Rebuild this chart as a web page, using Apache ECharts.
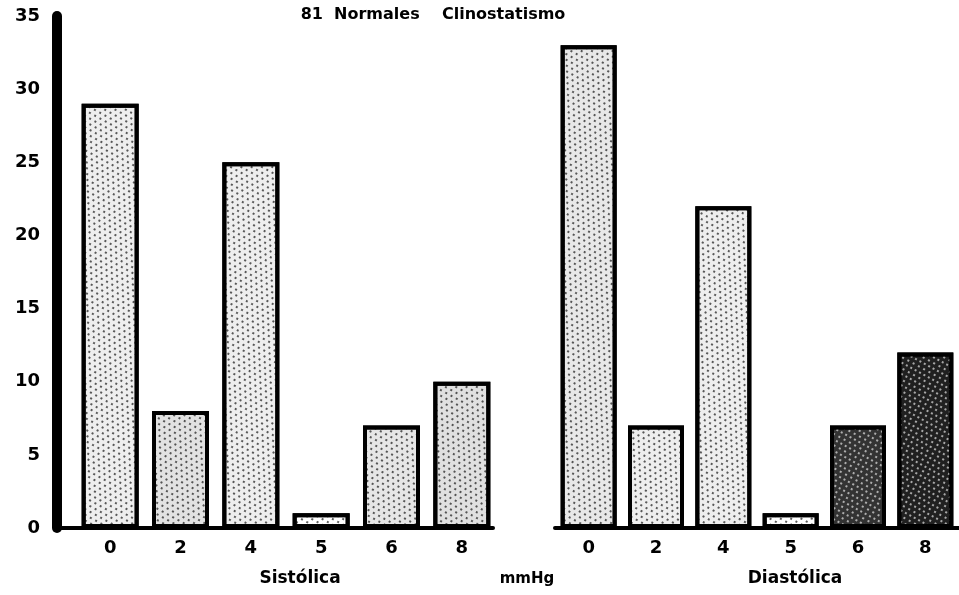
<!DOCTYPE html>
<html>
<head>
<meta charset="utf-8">
<script src="https://cdn.jsdelivr.net/npm/echarts@6/dist/echarts.min.js"></script>
<style>
html,body{margin:0;padding:0;background:#fff;}
#c{width:959px;height:595px;}
</style>
</head>
<body>
<div id="c"></div>
<script>
// ---- data ----
const categories = ['0', '2', '4', '5', '6', '8'];
const sistolica = [29, 8, 25, 1, 7, 10];
const diastolica = [33, 7, 22, 1, 7, 12];
const yMin = 0, yMax = 35, yStep = 5;
const titleText = '81  Normales    Clinostatismo';
const leftName = 'Sistólica';
const midName = 'mmHg';
const rightName = 'Diastólica';

// ---- styles ----
const FONT = 'DejaVu Sans';
const lightDecal = {
  symbol: 'circle', symbolSize: 0.9, color: '#111',
  dashArrayX: [[2, 4], [0, 3, 2, 1]], dashArrayY: [2, 2.5], rotation: 0.5
};
const darkDecal = {
  symbol: 'circle', symbolSize: 0.9, color: '#e8e8e8',
  dashArrayX: [[2, 3], [0, 2.5, 2, 0.5]], dashArrayY: [2, 2.5], rotation: 0.5
};
const leftFills = ['#eeeeee', '#e2e2e2', '#eeeeee', '#ffffff', '#e6e6e6', '#e0e0e0'];
const rightFills = ['#e8e8e8', '#eeeeee', '#eeeeee', '#ffffff', '#333333', '#202020'];

function buildData(vals, fills) {
  return vals.map((v, i) => ({
    value: v,
    itemStyle: {
      color: fills[i],
      decal: fills[i] < '#800000' ? darkDecal : lightDecal
    }
  }));
}

const chart = echarts.init(document.getElementById('c'), null, {renderer: 'canvas'});
const labelStyle = {color: '#000', fontFamily: FONT, fontWeight: 'bold', fontSize: 18};
const gridTop = 16, gridH = 512;
const nameStyle = {fontFamily: FONT, fontWeight: 'bold', fontSize: 17, color: '#000'};

const option = {
  backgroundColor: '#fff',
  animation: false,
  title: [
    {text: titleText, left: 428, top: 2, textAlign: 'center',
     textStyle: {fontFamily: FONT, fontWeight: 'bold', fontSize: 16, color: '#000'}},
    {text: leftName, left: 295, top: 565, textAlign: 'center', textStyle: nameStyle},
    {text: midName, left: 522, top: 567, textAlign: 'center',
     textStyle: {fontFamily: FONT, fontWeight: 'bold', fontSize: 15, color: '#000'}},
    {text: rightName, left: 790, top: 565, textAlign: 'center', textStyle: nameStyle}
  ],
  grid: [
    {left: 57, top: gridTop, width: 436, height: gridH},
    {left: 75, top: gridTop, width: 422, height: gridH},
    {left: 555, top: gridTop, width: 409, height: gridH}
  ],
  xAxis: [
    {gridIndex: 0, type: 'category', data: categories,
     axisLine: {lineStyle: {color: '#000', width: 4}}, axisTick: {show: false}, axisLabel: {show: false}},
    {gridIndex: 1, type: 'category', data: categories,
     axisLine: {show: false}, axisTick: {show: false},
     axisLabel: Object.assign({margin: 11}, labelStyle)},
    {gridIndex: 2, type: 'category', data: categories,
     axisLine: {lineStyle: {color: '#000', width: 4}}, axisTick: {show: false},
     axisLabel: Object.assign({margin: 11}, labelStyle)}
  ],
  yAxis: [
    {gridIndex: 0, type: 'value', min: yMin, max: yMax, interval: yStep,
     axisLine: {show: true, lineStyle: {color: '#000', width: 10}},
     axisTick: {show: false}, splitLine: {show: false},
     axisLabel: Object.assign({margin: 17}, labelStyle)},
    {gridIndex: 1, type: 'value', min: yMin, max: yMax, interval: yStep, show: false},
    {gridIndex: 2, type: 'value', min: yMin, max: yMax, interval: yStep, show: false}
  ],
  series: [
    {type: 'bar', name: leftName, xAxisIndex: 1, yAxisIndex: 1, barWidth: 57,
     itemStyle: {borderColor: '#000', borderWidth: 4},
     data: buildData(sistolica, leftFills)},
    {type: 'bar', name: rightName, xAxisIndex: 2, yAxisIndex: 2, barWidth: 56,
     itemStyle: {borderColor: '#000', borderWidth: 4},
     data: buildData(diastolica, rightFills)}
  ]
};
chart.setOption(option);
</script>
</body>
</html>
